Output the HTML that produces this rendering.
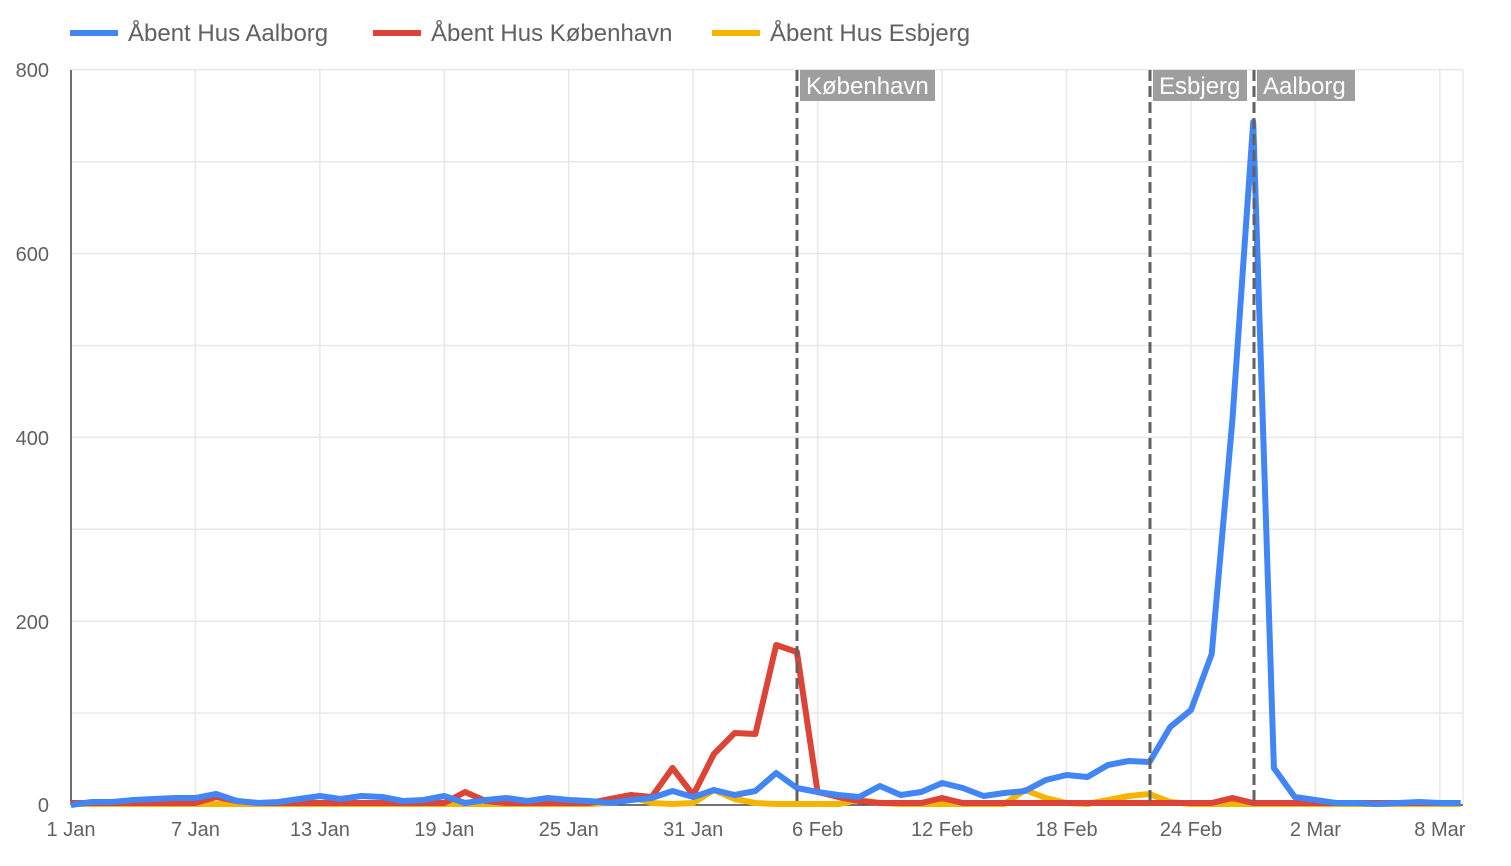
<!DOCTYPE html>
<html><head><meta charset="utf-8"><style>
body{margin:0;background:#fff;}
svg text{font-family:"Liberation Sans",sans-serif;}
</style></head><body>
<svg id="c" width="1511" height="861" xmlns="http://www.w3.org/2000/svg">
<g id="grid" stroke="#e8e8e8" stroke-width="1.5"></g>
<g font-size="20" fill="#616161">
<text x="49" y="77" text-anchor="end">800</text>
<text x="49" y="261" text-anchor="end">600</text>
<text x="49" y="445" text-anchor="end">400</text>
<text x="49" y="629" text-anchor="end">200</text>
<text x="49" y="812" text-anchor="end">0</text>
</g>
<g id="xl" font-size="20" fill="#616161" text-anchor="middle"></g>
<line x1="71" y1="70" x2="71" y2="805" stroke="#444" stroke-width="1.5"/>
<line x1="71" y1="805" x2="1463" y2="805" stroke="#444" stroke-width="1.5"/>
<g id="series" fill="none" stroke-width="6" stroke-linejoin="round"></g>
<g stroke="#616161" stroke-width="3" stroke-dasharray="11,5">
<line x1="797" y1="70" x2="797" y2="805"/>
<line x1="1150" y1="70" x2="1150" y2="805"/>
<line x1="1254" y1="70" x2="1254" y2="805"/>
</g>
<g fill="#9e9e9e"><rect x="800" y="70" width="135" height="31"/><rect x="1153" y="70" width="94" height="31"/><rect x="1257" y="70" width="98" height="31"/></g>
<g fill="#fff" font-size="24"><text x="806" y="94">København</text><text x="1159" y="94">Esbjerg</text><text x="1263" y="94">Aalborg</text></g>
<g font-size="24" fill="#616161">
<line x1="70" y1="33" x2="118" y2="33" stroke="#4285f4" stroke-width="6"/><text x="128" y="41">Åbent Hus Aalborg</text>
<line x1="373" y1="33" x2="421" y2="33" stroke="#db4437" stroke-width="6"/><text x="431" y="41">Åbent Hus København</text>
<line x1="712" y1="33" x2="760" y2="33" stroke="#f4b400" stroke-width="6"/><text x="770" y="41">Åbent Hus Esbjerg</text>
</g>
</svg>
<script>
const ns="http://www.w3.org/2000/svg",dx=20.74;
const g=document.getElementById('grid');
for(let v=100;v<=800;v+=100){const y=805-v*0.919;const l=document.createElementNS(ns,'line');l.setAttribute('x1',71);l.setAttribute('x2',1463);l.setAttribute('y1',y);l.setAttribute('y2',y);g.appendChild(l);}
const labs=["1 Jan","7 Jan","13 Jan","19 Jan","25 Jan","31 Jan","6 Feb","12 Feb","18 Feb","24 Feb","2 Mar","8 Mar"];
const xl=document.getElementById('xl');
labs.forEach((t,i)=>{const x=71+i*6*dx;const l=document.createElementNS(ns,'line');l.setAttribute('x1',x);l.setAttribute('x2',x);l.setAttribute('y1',70);l.setAttribute('y2',805);g.appendChild(l);
const tx=document.createElementNS(ns,'text');tx.setAttribute('x',x);tx.setAttribute('y',836);tx.textContent=t;xl.appendChild(tx);});
{const l=document.createElementNS(ns,'line');l.setAttribute('x1',1463);l.setAttribute('x2',1463);l.setAttribute('y1',70);l.setAttribute('y2',805);g.appendChild(l);}
const blue=[805,802,802,800,799,798,798,794,801,803,802,799,796,799,796,797,801,800,796,803,800,798,801,798,800,801,803,800,798,791,797,790,795,791,773,788,792,795,797,786,795,792,783,788,796,793,791,780,775,777,765,761,762,727,710,654,420,122,768,797,800,803,803,804,803,802,803,803];
const red=blue.map(()=>803);
Object.assign(red,{7:797,8:801,19:792,20:801,26:799,27:795,28:797,29:768,30:795,31:754,32:733,33:734,34:645,35:652,36:792,37:797,38:801,42:798,56:798});
const yel=blue.map(()=>804);
Object.assign(yel,{26:803,27:797,28:803,30:803,31:790,32:799,33:803,38:800,39:803,46:790,47:798,48:803,50:800,51:796,52:794,53:802});
const s=document.getElementById('series');
[[yel,'#f4b400'],[red,'#db4437'],[blue,'#4285f4']].forEach(([d,c])=>{const p=document.createElementNS(ns,'polyline');p.setAttribute('points',d.map((y,i)=>(71+i*dx).toFixed(1)+','+y).join(' '));p.setAttribute('stroke',c);s.appendChild(p);});
</script>
</body></html>
